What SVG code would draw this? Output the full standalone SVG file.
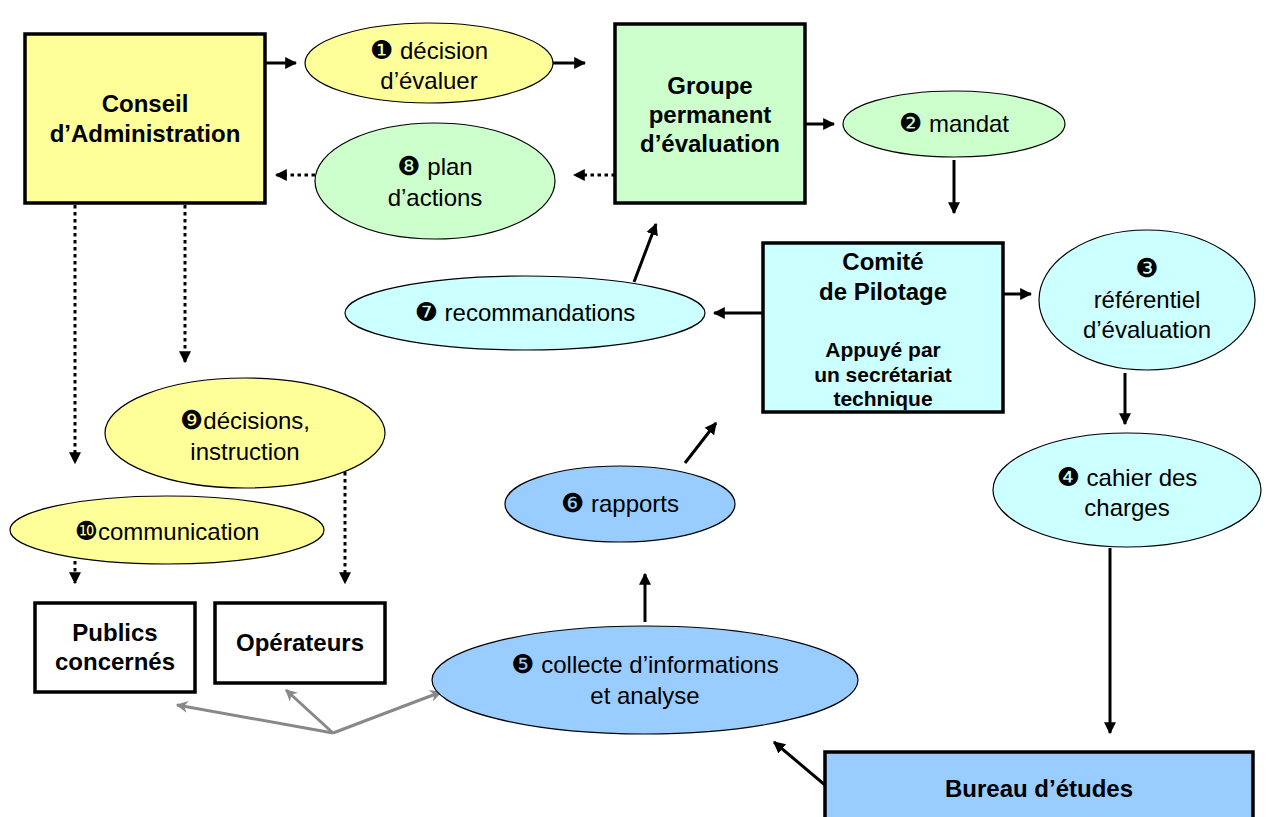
<svg xmlns="http://www.w3.org/2000/svg" width="1266" height="817" viewBox="0 0 1266 817">
<style>
.box{stroke:#000;stroke-width:3.5}
.ell{stroke:#000;stroke-width:1.2}
.t{font-family:"Liberation Sans",Arial,sans-serif;font-size:24px;fill:#000;text-anchor:middle}
.b{font-weight:bold}
.s{font-size:21px}
.n{font-family:"DejaVu Sans",sans-serif;font-size:26px}
.c{fill:none;stroke:#000;stroke-width:3}
.d{stroke-dasharray:3.5 3.5}
.g{fill:none;stroke:#888;stroke-width:3}
</style>
<defs>
<marker id="ah" viewBox="0 0 10 10" refX="9" refY="5" markerWidth="12" markerHeight="14" markerUnits="userSpaceOnUse" orient="auto"><path d="M0,0 L10,5 L0,10 z" fill="#000"/></marker>
<marker id="ahg" viewBox="0 0 10 10" refX="9" refY="5" markerWidth="12" markerHeight="12" markerUnits="userSpaceOnUse" orient="auto"><path d="M0,0 L10,5 L0,10 L3,5 z" fill="#888"/></marker>
</defs>
<rect width="1266" height="817" fill="#fff"/>
<g id="connectors">
<line class="c" x1="265" y1="63" x2="296" y2="63" marker-end="url(#ah)"/>
<line class="c" x1="553" y1="63" x2="585" y2="63" marker-end="url(#ah)"/>
<line class="c" x1="805" y1="124" x2="834" y2="124" marker-end="url(#ah)"/>
<line class="c" x1="954" y1="160" x2="954" y2="213" marker-end="url(#ah)"/>
<line class="c" x1="1003" y1="294" x2="1031" y2="294" marker-end="url(#ah)"/>
<line class="c" x1="1125" y1="373" x2="1125" y2="424" marker-end="url(#ah)"/>
<line class="c" x1="1110" y1="548" x2="1110" y2="733" marker-end="url(#ah)"/>
<line class="c" x1="825" y1="785" x2="774" y2="742" marker-end="url(#ah)"/>
<line class="c" x1="645" y1="622" x2="645" y2="574" marker-end="url(#ah)"/>
<line class="c" x1="685" y1="463" x2="716" y2="423" marker-end="url(#ah)"/>
<line class="c" x1="763" y1="313" x2="714" y2="313" marker-end="url(#ah)"/>
<line class="c" x1="634" y1="282" x2="656" y2="224" marker-end="url(#ah)"/>
<line class="c d" x1="615" y1="175" x2="574" y2="175" marker-end="url(#ah)"/>
<line class="c d" x1="315" y1="175" x2="276" y2="175" marker-end="url(#ah)"/>
<line class="c d" x1="185" y1="205" x2="185" y2="362" marker-end="url(#ah)"/>
<line class="c d" x1="75" y1="205" x2="75" y2="463" marker-end="url(#ah)"/>
<line class="c d" x1="345" y1="472" x2="345" y2="583" marker-end="url(#ah)"/>
<line class="c d" x1="75" y1="554" x2="75" y2="583" marker-end="url(#ah)"/>
<line class="g" x1="333" y1="733" x2="177" y2="705" marker-end="url(#ahg)"/>
<line class="g" x1="333" y1="733" x2="286" y2="690" marker-end="url(#ahg)"/>
<line class="g" x1="333" y1="733" x2="441" y2="692" marker-end="url(#ahg)"/>
</g>
<g id="conseil">
<rect class="box" x="25" y="34" width="240" height="169" fill="#FFFF99"/>
<text class="t b" x="145" y="112">Conseil</text>
<text class="t b" x="145" y="142">d’Administration</text>
</g>
<g id="e1">
<ellipse class="ell" cx="429" cy="63" rx="124" ry="40" fill="#FFFF99"/>
<text class="t" x="429" y="59"><tspan class="n">❶</tspan> décision</text>
<text class="t" x="429" y="89">d’évaluer</text>
</g>
<g id="groupe">
<rect class="box" x="615" y="24" width="190" height="179" fill="#CCFFCC"/>
<text class="t b" x="710" y="94">Groupe</text>
<text class="t b" x="710" y="123">permanent</text>
<text class="t b" x="710" y="152">d’évaluation</text>
</g>
<g id="e2">
<ellipse class="ell" cx="954" cy="124" rx="111" ry="33" fill="#CCFFCC"/>
<text class="t" x="954" y="132"><tspan class="n">❷</tspan> mandat</text>
</g>
<g id="e8">
<ellipse class="ell" cx="435" cy="181" rx="120" ry="58" fill="#CCFFCC"/>
<text class="t" x="435" y="175"><tspan class="n">❽</tspan> plan</text>
<text class="t" x="435" y="206">d’actions</text>
</g>
<g id="comite">
<rect class="box" x="763" y="243" width="240" height="169" fill="#CCFFFF"/>
<text class="t b" x="883" y="270">Comité</text>
<text class="t b" x="883" y="300">de Pilotage</text>
<text class="t b s" x="883" y="357">Appuyé par</text>
<text class="t b s" x="883" y="382">un secrétariat</text>
<text class="t b s" x="883" y="406">technique</text>
</g>
<g id="e3">
<ellipse class="ell" cx="1147" cy="300" rx="108" ry="70" fill="#CCFFFF"/>
<text class="t" x="1147" y="277"><tspan class="n">❸</tspan></text>
<text class="t" x="1147" y="308">référentiel</text>
<text class="t" x="1147" y="338">d’évaluation</text>
</g>
<g id="e4">
<ellipse class="ell" cx="1127" cy="490" rx="134" ry="57" fill="#CCFFFF"/>
<text class="t" x="1127" y="486"><tspan class="n">❹</tspan> cahier des</text>
<text class="t" x="1127" y="516">charges</text>
</g>
<g id="bureau">
<rect class="box" x="825" y="752" width="428" height="80" fill="#99CCFF"/>
<text class="t b" x="1039" y="797">Bureau d’études</text>
</g>
<g id="e7">
<ellipse class="ell" cx="525" cy="313" rx="180" ry="37" fill="#CCFFFF"/>
<text class="t" x="525" y="321"><tspan class="n">❼</tspan> recommandations</text>
</g>
<g id="e6">
<ellipse class="ell" cx="620" cy="504" rx="115" ry="38" fill="#99CCFF"/>
<text class="t" x="620" y="512"><tspan class="n">❻</tspan> rapports</text>
</g>
<g id="e5">
<ellipse class="ell" cx="645" cy="680" rx="213" ry="54" fill="#99CCFF"/>
<text class="t" x="645" y="673"><tspan class="n">❺</tspan> collecte d’informations</text>
<text class="t" x="645" y="704">et analyse</text>
</g>
<g id="e9">
<ellipse class="ell" cx="245" cy="433" rx="140" ry="55" fill="#FFFF99"/>
<text class="t" x="245" y="429"><tspan class="n">❾</tspan>décisions,</text>
<text class="t" x="245" y="460">instruction</text>
</g>
<g id="e10">
<ellipse class="ell" cx="167" cy="530" rx="157" ry="34" fill="#FFFF99"/>
<text class="t" x="167" y="540"><tspan class="n">❿</tspan>communication</text>
</g>
<g id="publics">
<rect class="box" x="35" y="603" width="160" height="89" fill="#fff"/>
<text class="t b" x="115" y="641">Publics</text>
<text class="t b" x="115" y="670">concernés</text>
</g>
<g id="operateurs">
<rect class="box" x="215" y="603" width="170" height="80" fill="#fff"/>
<text class="t b" x="300" y="651">Opérateurs</text>
</g>
</svg>
